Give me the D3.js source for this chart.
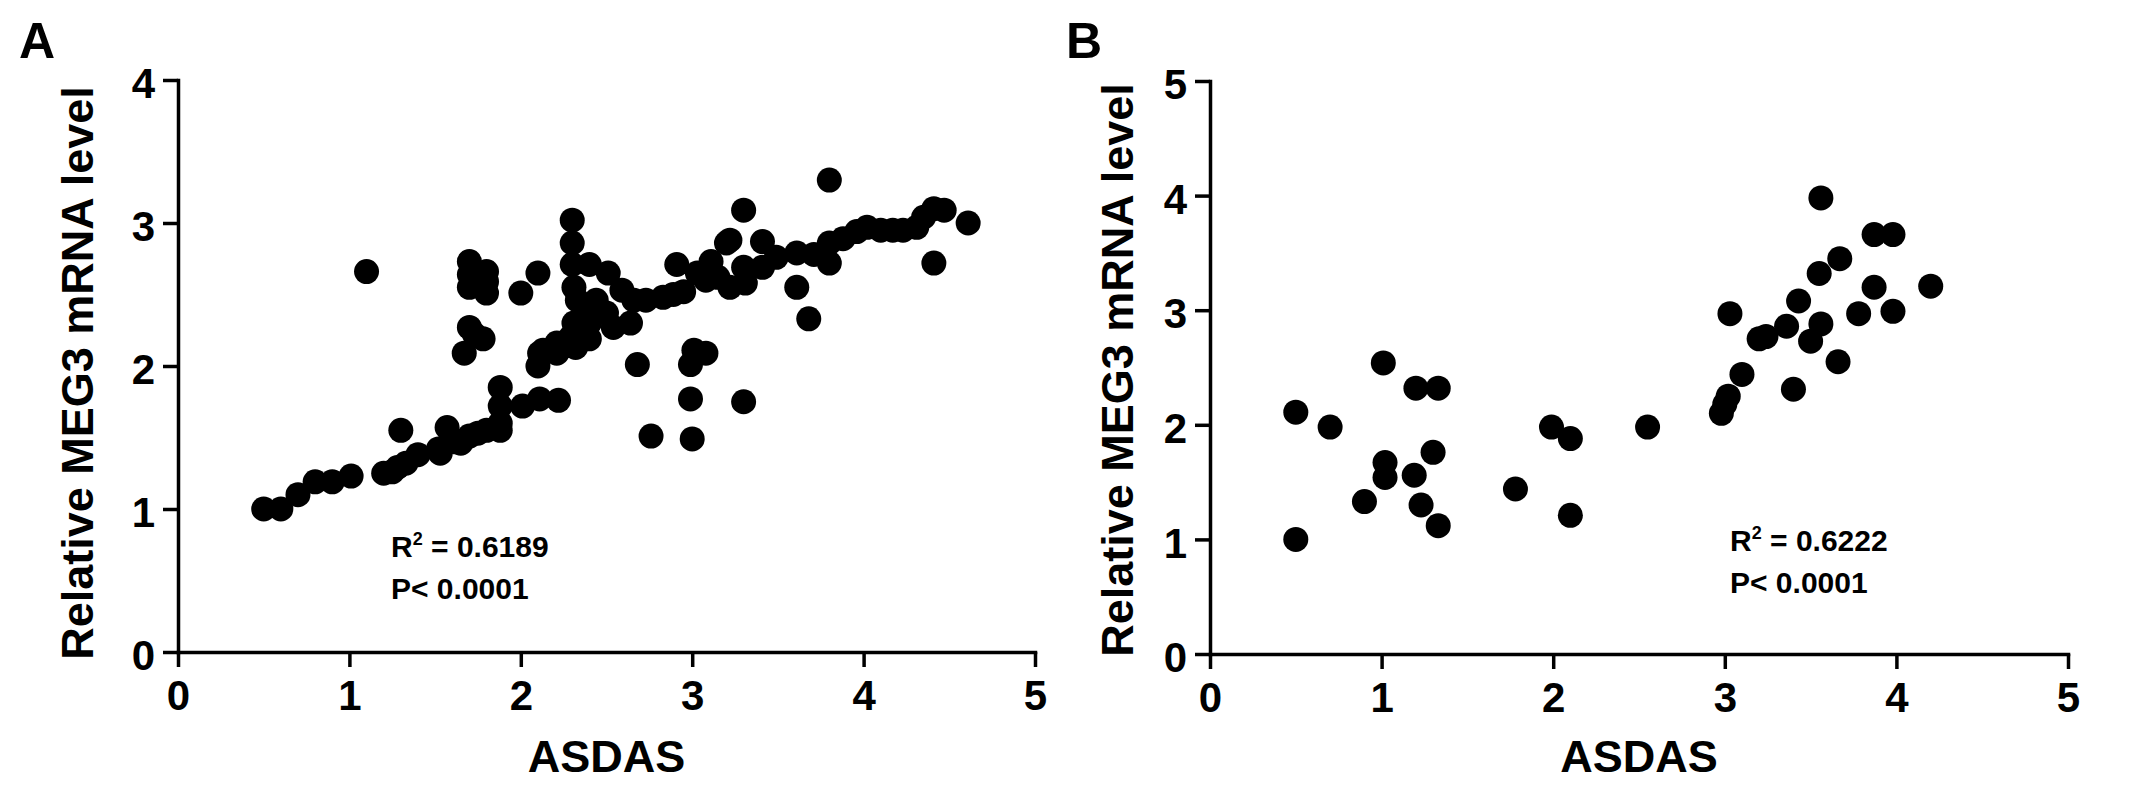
<!DOCTYPE html>
<html>
<head>
<meta charset="utf-8">
<script src="https://cdn.jsdelivr.net/npm/d3@7"></script>
<style>
  html, body { margin: 0; padding: 0; background: #fff; }
  svg { display: block; }
  text { font-family: "Liberation Sans", Arial, sans-serif; font-weight: bold; fill: #000; }
</style>
</head>
<body>
<svg id="chart" width="2150" height="789"></svg>
<script>
// ---------- DATA ----------
const xTicks = [0, 1, 2, 3, 4, 5];
const yTicksA = [0, 1, 2, 3, 4];
const yTicksB = [0, 1, 2, 3, 4, 5];
const xLabel = "ASDAS";
const yLabel = "Relative MEG3 mRNA level";
const statsA = ["0.6189", "P< 0.0001"];
const statsB = ["0.6222", "P< 0.0001"];

// Panel A: ASDAS vs MEG3 level
const asdasA = [
  0.50,0.60,0.70,0.80,0.90,1.01,1.20,1.25,1.28,1.33,1.40,1.52,1.53,1.57,1.62,1.65,1.70,1.75,1.80,1.88,1.88,1.30,
  1.88,1.88,2.01,2.11,2.22,
  2.10,2.11,2.13,2.21,2.21,2.29,2.32,2.26,
  2.31,2.40,2.40,2.36,2.54,2.64,2.50,2.44,2.38,2.33,2.31,
  2.30,2.30,2.30,2.40,2.51,2.59,2.66,2.73,2.83,2.91,2.95,2.89,3.03,3.11,3.20,3.30,
  3.08,3.15,3.22,3.31,3.22,3.30,3.41,3.41,3.49,3.61,3.71,3.80,3.80,3.88,3.96,4.02,4.10,4.17,4.23,4.31,4.35,4.41,4.47,4.61,4.41,3.61,3.68,3.80,
  1.10,1.70,1.70,1.70,1.80,1.80,1.80,1.70,1.73,1.78,1.67,2.00,2.10,
  2.68,2.99,3.01,3.08,2.99,3.30,2.76,3.00
];
const megA = [
  1.00,1.00,1.10,1.19,1.19,1.23,1.25,1.26,1.29,1.32,1.38,1.42,1.39,1.57,1.47,1.46,1.51,1.53,1.55,1.55,1.60,1.55,
  1.72,1.85,1.72,1.77,1.76,
  2.00,2.09,2.11,2.09,2.16,2.20,2.13,2.14,
  2.30,2.19,2.30,2.25,2.27,2.30,2.37,2.46,2.41,2.46,2.55,
  3.02,2.86,2.71,2.71,2.65,2.53,2.46,2.46,2.48,2.71,2.52,2.50,2.65,2.73,2.86,3.09,
  2.60,2.62,2.55,2.58,2.88,2.69,2.87,2.69,2.76,2.79,2.78,2.72,2.86,2.89,2.94,2.97,2.95,2.95,2.95,2.97,3.04,3.10,3.09,3.00,2.72,2.55,2.33,3.30,
  2.66,2.73,2.64,2.55,2.66,2.59,2.51,2.27,2.22,2.19,2.09,2.51,2.65,
  2.01,2.01,2.11,2.09,1.77,1.75,1.51,1.49
];

// Panel B: ASDAS vs MEG3 level
const asdasB = [
  0.50,0.50,0.70,1.01,1.02,1.02,0.90,1.20,1.33,1.30,1.19,1.23,1.33,
  1.78,1.99,2.10,2.10,2.55,
  2.98,3.00,3.02,3.03,3.10,3.20,3.24,3.36,3.43,3.40,3.50,3.56,3.55,3.56,3.66,3.67,3.78,3.87,3.87,3.98,3.98,4.20
];
const megB = [
  2.11,1.00,1.98,2.54,1.67,1.54,1.33,2.32,2.32,1.76,1.56,1.30,1.12,
  1.44,1.98,1.88,1.21,1.98,
  2.10,2.18,2.25,2.97,2.44,2.75,2.77,2.86,3.08,2.31,2.73,2.88,3.32,3.98,2.55,3.45,2.97,3.20,3.66,3.66,2.99,3.21
];

// ---------- DRAW ----------
const svg = d3.select("#chart");

function panel(cfg) {
  const x = d3.scaleLinear().domain([0, 5]).range([cfg.x0, cfg.x1]);
  const y = d3.scaleLinear().domain([0, cfg.yMax]).range([cfg.y0, cfg.y1]);
  const g = svg.append("g");

  const xAxis = g.append("g")
    .attr("transform", `translate(0,${cfg.y0})`)
    .call(d3.axisBottom(x).tickValues(xTicks).tickFormat(d3.format("d"))
      .tickSizeInner(15).tickSizeOuter(0).tickPadding(13));
  const yAxis = g.append("g")
    .attr("transform", `translate(${cfg.x0},0)`)
    .call(d3.axisLeft(y).tickValues(cfg.yTicks).tickFormat(d3.format("d"))
      .tickSizeInner(15).tickSizeOuter(0).tickPadding(8));

  [xAxis, yAxis].forEach(a => {
    a.select(".domain").attr("stroke", "#000").attr("stroke-width", 3.5).attr("stroke-linecap", "square");
    a.selectAll(".tick line").attr("stroke", "#000").attr("stroke-width", 3.5);
    a.selectAll(".tick text")
      .style("font-family", '"Liberation Sans", Arial, sans-serif')
      .style("font-weight", "bold").attr("font-size", 42).attr("fill", "#000");
  });
  yAxis.selectAll(".tick text").attr("dy", "0.42em");

  // points
  g.append("g").selectAll("circle")
    .data(cfg.xs.map((v, i) => [v, cfg.ys[i]]))
    .join("circle")
    .attr("cx", d => x(d[0]))
    .attr("cy", d => y(d[1]))
    .attr("r", 12.5)
    .attr("fill", "#000");

  // axis titles
  g.append("text")
    .attr("x", (cfg.x0 + cfg.x1) / 2).attr("y", 772)
    .attr("text-anchor", "middle").attr("font-size", 45)
    .text(xLabel);
  g.append("text")
    .attr("transform", `translate(${cfg.yLabX},${cfg.yLabY}) rotate(-90)`)
    .attr("text-anchor", "middle").attr("font-size", 45)
    .text(yLabel);

  // panel letter
  g.append("text")
    .attr("x", cfg.letterX).attr("y", 58)
    .attr("font-size", 50)
    .text(cfg.letter);

  // stats
  const t1 = g.append("text").attr("x", cfg.statX).attr("y", cfg.statY).attr("font-size", 30);
  t1.append("tspan").text("R");
  t1.append("tspan").attr("font-size", 18).attr("dy", -12).text("2");
  t1.append("tspan").attr("dy", 12).text(" = " + cfg.stats[0]);
  g.append("text").attr("x", cfg.statX).attr("y", cfg.statY + 42).attr("font-size", 30)
    .text(cfg.stats[1]);
}

panel({
  x0: 178, x1: 1035, y0: 652, y1: 80, yMax: 4, yTicks: yTicksA,
  xs: asdasA, ys: megA, stats: statsA,
  yLabX: 93, yLabY: 373, letter: "A", letterX: 19,
  statX: 391, statY: 557
});
panel({
  x0: 1210, x1: 2068, y0: 654, y1: 81, yMax: 5, yTicks: yTicksB,
  xs: asdasB, ys: megB, stats: statsB,
  yLabX: 1133, yLabY: 370, letter: "B", letterX: 1066,
  statX: 1730, statY: 551
});
</script>
</body>
</html>
